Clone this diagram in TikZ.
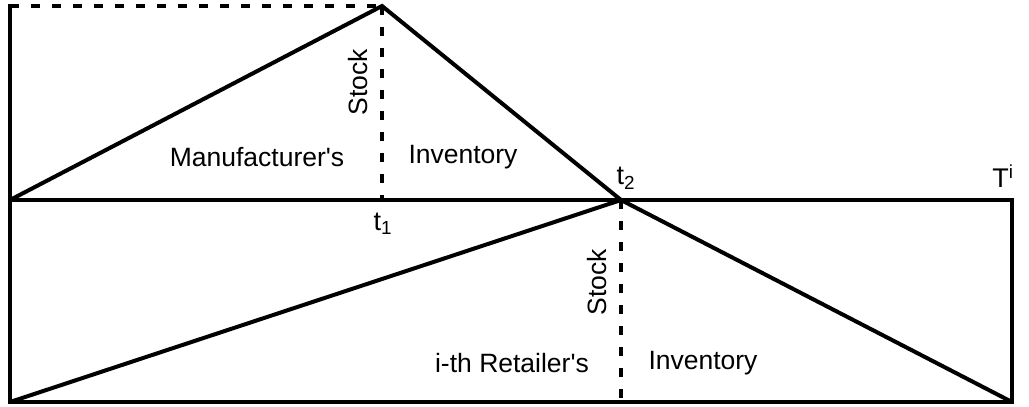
\documentclass[tikz,border=0pt]{standalone}
\usepackage{fontspec}
\setmainfont{Liberation Sans}
\usetikzlibrary{positioning,calc}

\begin{document}
\begin{tikzpicture}[
    x=1pt, y=-1pt,
    axis/.style={line width=4pt, draw=black, line cap=rect},
    stockline/.style={line width=4pt, draw=black, line join=miter},
    dashline/.style={line width=4pt, draw=black, dash pattern=on 9pt off 12pt},
    lbl/.style={font=\fontsize{26.5}{30}\selectfont, inner sep=0pt, text=black},
    tick/.style={font=\fontsize{27}{30}\selectfont, inner sep=0pt, text=black}
]
    \useasboundingbox (0,0) rectangle (1029,407);

    % Corner points
    \coordinate (top) at (10,6);
    \coordinate (o) at (10,200);
    \coordinate (bot) at (10,402);
    \coordinate (peak) at (382,6);
    \coordinate (t1) at (382,200);
    \coordinate (t2) at (621,200);
    \coordinate (t2b) at (621,402);
    \coordinate (T) at (1012,200);
    \coordinate (Tb) at (1012,402);

    % Axes
    \draw[axis] (top) -- (bot) -- (Tb) -- (T) -- (o);

    % Manufacturer's stock
    \draw[stockline] (o) -- (peak) -- (t2);
    \draw[dashline] (top) -- (peak);
    \draw[dashline] (peak) -- (t1);

    % Retailer's stock
    \draw[stockline] (bot) -- (t2) -- (Tb);
    \draw[dashline] (t2) -- (t2b);

    % Labels
    \node[lbl] (manu) at (257,157) {Manufacturer\textquotesingle s};
    \node[lbl] (inv1) at (463,157) {Inventory};
    \node[lbl, rotate=90] (stock1) at (358,82) {Stock};
    \node[lbl] (ret) at (512,363) {i-th Retailer\textquotesingle s};
    \node[lbl] (inv2) at (703,363) {Inventory};
    \node[lbl, rotate=90] (stock2) at (597,282) {Stock};

    % Time marks
    \node[tick] (lt1) at (383,224) {t\textsubscript{1}};
    \node[tick] (lt2) at (626,178) {t\textsubscript{2}};
    \node[tick] (lT) at (1003,176) {T\textsuperscript{i}};
\end{tikzpicture}
\end{document}
